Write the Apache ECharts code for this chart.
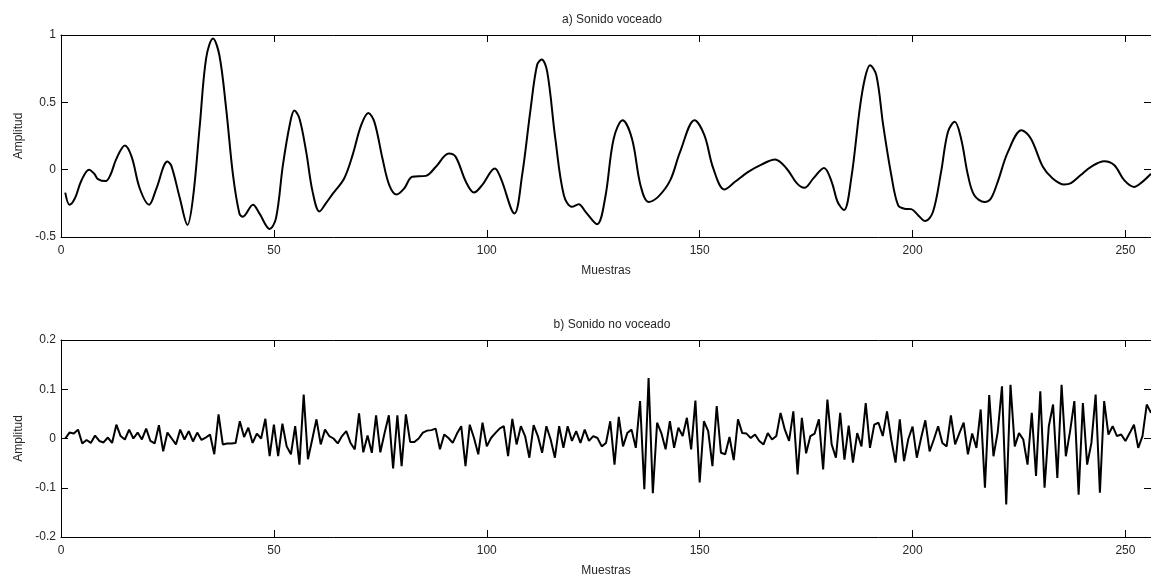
<!DOCTYPE html>
<html>
<head>
<meta charset="utf-8">
<script src="https://cdn.jsdelivr.net/npm/echarts@6/dist/echarts.min.js"></script>
<style>
html,body{margin:0;padding:0;background:#fff;}
#chart{width:1151px;height:581px;}
</style>
</head>
<body>
<div id="chart"></div>
<script>
// ---- Data ----
const titleA = 'a) Sonido voceado';
const titleB = 'b) Sonido no voceado';
const xName = 'Muestras';
const yName = 'Amplitud';
const xTicks = [0, 50, 100, 150, 200, 250];
const topTicks = [-0.5, 0, 0.5, 1];
const bottomTicks = [-0.2, -0.1, 0, 0.1, 0.2];

// a) voiced sound: key points (sample, amplitude)
const topX = [1, 2, 3.3, 4.8, 6.6, 7.8, 8.7, 10.5, 11.6, 13, 15, 16.6, 18.5, 20.7, 22.4, 25, 25.9, 27.9, 29.7, 31,
  32.6, 34.1, 35.7, 37.2, 38.8, 40.4, 41.9, 42.7, 45.1, 46.6, 49, 50.5, 52.1, 53.7, 54.8, 56, 57.6, 59.1, 60.7, 62.2,
  63.8, 66.5, 68.5, 70.5, 72.2, 73.6, 75.5, 77.1, 78.8, 80.6, 82.5, 85.7, 88, 91.1, 92.7, 95.1, 97, 98.9, 101.9, 103.3,
  106.5, 108.3, 110.3, 111.8, 112.9, 114.2, 116.1, 118.1, 120, 121.6, 123.2, 125.9, 127.8, 129.8, 131.9, 134.1, 136.1, 138, 140.3, 143.1,
  145.4, 148.8, 151.1, 153.2, 155.8, 158.3, 161.4, 164.5, 167.7, 170.4, 172.8, 174.6, 176.7, 179.2, 181, 182.4, 183.9, 185.6, 187.6, 188.8,
  190, 191.5, 193.1, 195, 196.6, 198.1, 199.7, 201.3, 203, 204.8, 206.7, 208.3, 209.9, 211.4, 213, 214.5, 216.9, 218.4, 220, 222.4,
  225.6, 227.8, 230.6, 232.9, 235.6, 237.2, 239.5, 241.9, 245, 247.4, 249.7, 252, 253.6, 256];
const topY = [-0.17, -0.26, -0.21, -0.08, 0.0, -0.03, -0.07, -0.085, -0.04, 0.08, 0.18, 0.095, -0.14, -0.26, -0.14, 0.06, 0.03, -0.21, -0.41, -0.21,
  0.33, 0.83, 0.974, 0.85, 0.45, -0.04, -0.325, -0.35, -0.26, -0.325, -0.44, -0.36, 0.03, 0.33, 0.44, 0.38, 0.13, -0.165, -0.31, -0.25,
  -0.18, -0.065, 0.11, 0.33, 0.42, 0.355, 0.083, -0.115, -0.185, -0.14, -0.053, -0.046, 0.02, 0.12, 0.095, -0.09, -0.17, -0.115, 0.009, -0.065,
  -0.325, -0.04, 0.454, 0.776, 0.818, 0.726, 0.23, -0.19, -0.276, -0.256, -0.313, -0.405, -0.21, 0.23, 0.367, 0.23, -0.115, -0.24, -0.2, -0.078,
  0.132, 0.367, 0.256, 0.009, -0.147, -0.09, -0.016, 0.038, 0.076, 0.009, -0.1, -0.135, -0.065, 0.013, -0.09, -0.24, -0.3, -0.065, 0.454, 0.677,
  0.776, 0.7, 0.33, -0.04, -0.264, -0.29, -0.293, -0.338, -0.382, -0.313, -0.016, 0.28, 0.355, 0.23, -0.04, -0.19, -0.24, -0.214, -0.09, 0.132,
  0.293, 0.23, 0.021, -0.065, -0.11, -0.1, -0.04, 0.021, 0.063, 0.033, -0.078, -0.128, -0.1, -0.03];

// b) unvoiced sound: amplitude of samples 1..256
const bottomY = [
  0, 0.012, 0.010, 0.018, -0.010, -0.003, -0.009, 0.006, -0.005, -0.008,
  0.002, -0.009, 0.028, 0.005, -0.002, 0.018, 0, 0.012, -0.002, 0.020,
  -0.005, -0.010, 0.027, -0.026, 0.012, 0, -0.012, 0.018, -0.002, 0.015,
  -0.006, 0.012, -0.003, 0.002, 0.008, -0.032, 0.049, -0.012, -0.010, -0.010,
  -0.009, 0.035, 0.003, 0.022, -0.009, 0.010, 0, 0.040, -0.036, 0.028,
  -0.036, 0.030, -0.016, -0.032, 0.025, -0.053, 0.089, -0.042, -0.002, 0.039,
  -0.012, 0.018, 0.005, 0, -0.010, 0.005, 0.015, -0.009, -0.022, 0.051,
  -0.028, 0.006, -0.029, 0.047, -0.028, 0.011, 0.047, -0.061, 0.047, -0.056,
  0.049, -0.007, -0.007, 0, 0.012, 0.016, 0.017, 0.020, -0.022, 0.008,
  0.001, -0.009, 0.010, 0.025, -0.056, 0.028, 0.001, -0.032, 0.032, -0.016,
  0.001, 0.011, 0.020, 0.025, -0.036, 0.040, -0.012, 0.025, 0.005, -0.039,
  0.027, 0.005, -0.029, 0.025, -0.002, -0.039, 0.025, -0.019, 0.025, -0.005,
  0.015, -0.009, 0.018, -0.005, 0.005, 0.001, -0.016, -0.009, 0.035, -0.053,
  0.044, -0.016, 0.011, 0.018, -0.019, 0.076, -0.103, 0.123, -0.111, 0.032,
  0.011, -0.022, 0.035, -0.019, 0.022, 0.005, 0.042, -0.022, 0.077, -0.089,
  0.035, 0.015, -0.056, 0.066, -0.029, -0.032, 0.003, -0.044, 0.039, 0.011,
  0.010, 0.001, 0.008, -0.005, -0.012, 0.011, -0.002, 0.005, 0.052, 0.018,
  -0.005, 0.055, -0.073, 0.042, -0.030, 0.005, 0.010, 0.039, -0.063, 0.079,
  -0.012, -0.039, 0.052, -0.043, 0.026, -0.049, 0.011, -0.016, 0.072, -0.019,
  0.028, 0.032, 0.005, 0.055, -0.002, -0.049, 0.039, -0.046, -0.001, 0.024,
  -0.039, 0.001, 0.037, -0.026, -0.002, 0.025, -0.009, -0.016, 0.047, -0.012,
  0.011, 0.032, -0.032, 0.010, -0.019, 0.059, -0.100, 0.088, -0.036, 0.013,
  0.106, -0.134, 0.109, -0.016, 0.011, -0.002, -0.053, 0.052, -0.076, 0.096,
  -0.100, 0.025, 0.069, -0.080, 0.109, -0.036, 0.015, 0.076, -0.114, 0.072,
  -0.053, -0.009, 0.089, -0.110, 0.076, 0.008, 0.025, 0.005, 0.008, -0.005,
  0.011, 0.028, -0.019, 0.005, 0.069, 0.052
];

// ---- Chart ----
const FONT = 'Liberation Sans, Arial, sans-serif';
const TXT = '#262626';
const chart = echarts.init(document.getElementById('chart'), null, {renderer: 'canvas'});

function xAx(grid, primary) {
  return {
    type: 'value', gridIndex: grid, min: xTicks[0], max: 256, interval: xTicks[1] - xTicks[0],
    position: primary ? 'bottom' : 'top',
    name: primary ? xName : '', nameLocation: 'middle', nameGap: 28,
    nameTextStyle: {fontFamily: FONT, fontSize: 12, color: TXT},
    axisLine: {show: true, onZero: false, lineStyle: {color: '#000', width: 1}},
    axisTick: {show: true, inside: true, length: 7, lineStyle: {color: '#000'}},
    axisLabel: {show: primary, showMaxLabel: false, margin: 8, fontFamily: FONT, fontSize: 12, color: TXT},
    splitLine: {show: false}
  };
}
function yAx(grid, primary, ticks) {
  return {
    type: 'value', gridIndex: grid, min: ticks[0], max: ticks[ticks.length - 1], interval: ticks[1] - ticks[0],
    position: primary ? 'left' : 'right',
    name: primary ? yName : '', nameLocation: 'middle', nameGap: 36, nameRotate: 90,
    nameTextStyle: {fontFamily: FONT, fontSize: 12, color: TXT},
    axisLine: {show: true, onZero: false, lineStyle: {color: '#000', width: 1}},
    axisTick: {show: true, inside: true, length: 7, lineStyle: {color: '#000'}},
    axisLabel: {show: primary, margin: 5, fontFamily: FONT, fontSize: 12, color: TXT},
    splitLine: {show: false}
  };
}

const option = {
  animation: false,
  backgroundColor: '#fff',
  title: [
    {text: titleA, left: 607, top: 9, textAlign: 'center',
     textStyle: {fontFamily: FONT, fontSize: 12, fontWeight: 'normal', color: TXT}},
    {text: titleB, left: 607, top: 314, textAlign: 'center',
     textStyle: {fontFamily: FONT, fontSize: 12, fontWeight: 'normal', color: TXT}}
  ],
  grid: [
    {left: 61, top: 35, width: 1092, height: 202},
    {left: 61, top: 340, width: 1092, height: 197}
  ],
  xAxis: [xAx(0, true), xAx(0, false), xAx(1, true), xAx(1, false)],
  yAxis: [
    yAx(0, true, topTicks), yAx(0, false, topTicks),
    yAx(1, true, bottomTicks), yAx(1, false, bottomTicks)
  ],
  series: [
    {
      type: 'line', xAxisIndex: 0, yAxisIndex: 0,
      data: topX.map((x, i) => [x, topY[i]]),
      smooth: 0.35, showSymbol: false, symbol: 'none',
      lineStyle: {color: '#000', width: 2}
    },
    {
      type: 'line', xAxisIndex: 2, yAxisIndex: 2,
      data: bottomY.map((v, i) => [i + 1, v]),
      showSymbol: false, symbol: 'none',
      lineStyle: {color: '#000', width: 2}
    }
  ]
};
chart.setOption(option);
</script>
</body>
</html>
